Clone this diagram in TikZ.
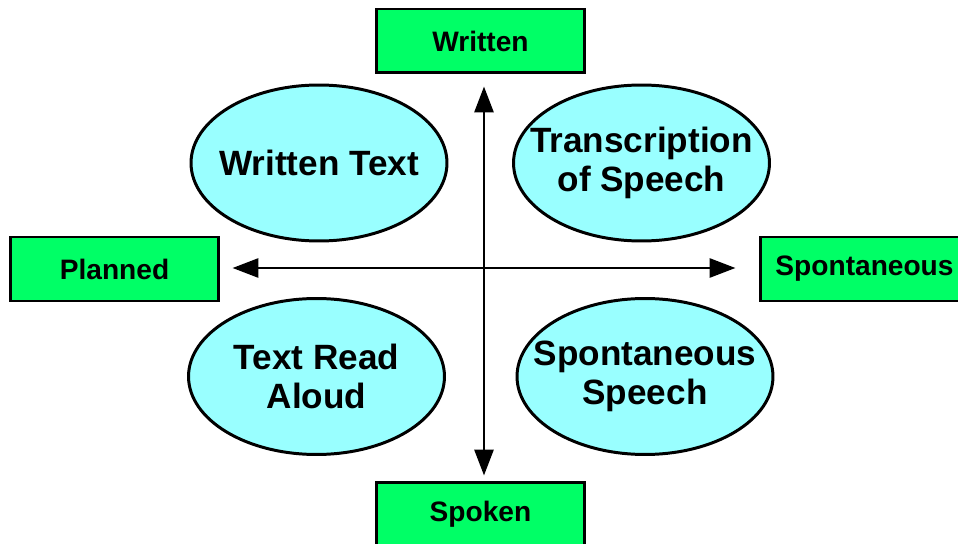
\documentclass[tikz,border=0pt]{standalone}
\usepackage{fontspec}
\setmainfont{Liberation Sans}
\usetikzlibrary{arrows.meta,shapes.geometric}

\definecolor{boxgreen}{HTML}{00FF66}
\definecolor{ovalcyan}{HTML}{99FFFF}

\tikzset{
  axisbox/.style={draw=black,line width=1.7pt,fill=boxgreen,minimum width=4.18cm,
    minimum height=1.28cm,inner sep=0pt,font=\fontsize{16}{18}\selectfont\bfseries},
  quadrant/.style={ellipse,draw=black,line width=1.7pt,fill=ovalcyan,minimum width=5.12cm,
    minimum height=3.12cm,inner xsep=-0.5cm,inner ysep=0pt,align=center,
    font=\fontsize{20}{22}\selectfont\bfseries},
  axisline/.style={line width=1.7pt,{Triangle[length=0.52cm,width=0.38cm]}-{Triangle[length=0.52cm,width=0.38cm]}}
}

\begin{document}
\begin{tikzpicture}[x=0.02cm,y=-0.02cm]
\useasboundingbox (0,0) rectangle (958,544);
% the four ends of the two axes
\node[axisbox] (written) at (480.5,41) {Written};
\node[axisbox] (spoken) at (480.5,514) {Spoken};
\node[axisbox] (planned) at (114.5,269) {Planned};
\node[axisbox] (spont) at (864.5,269) {Spontaneous};
% the four kinds of text
\node[quadrant] (wtext) at (319,163) {Written Text};
\node[quadrant] (trans) at (641.5,163) {Transcription\\of Speech};
\node[quadrant] (aloud) at (316.5,376.5) {Text Read\\Aloud};
\node[quadrant] (sspeech) at (645,376.5) {Spontaneous\\Speech};
% axes
\draw[axisline,shorten <=5*0.02cm,shorten >=12*0.02cm] (spoken.north -| 484,0) -- (written.south -| 484,0);
\draw[axisline,shorten <=12*0.02cm,shorten >=23*0.02cm] (planned.east |- 0,268) -- (spont.west |- 0,268);
\end{tikzpicture}
\end{document}
